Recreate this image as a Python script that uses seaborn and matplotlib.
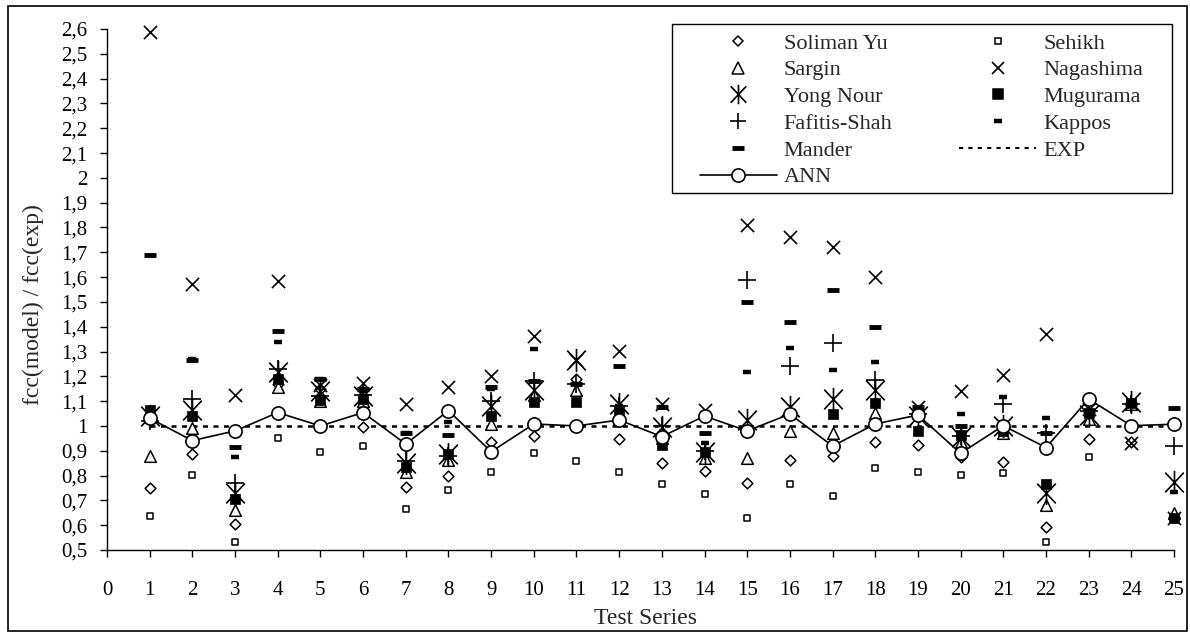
import matplotlib
matplotlib.use("Agg")
import matplotlib.pyplot as plt
import seaborn as sns
from matplotlib.path import Path
from matplotlib.patches import Rectangle
from matplotlib.lines import Line2D
from matplotlib.ticker import FuncFormatter, MultipleLocator

# test series 1..25
series = list(range(1, 26))

soliman_yu = [0.75, 0.886, 0.603, 1.17, 1.15, 0.997, 0.753, 0.798, 0.937, 0.96,
              1.188, 0.946, 0.849, 0.82, 0.769, 0.863, 0.879, 0.937, 0.923, 0.876,
              0.856, 0.594, 0.946, 0.935, 0.635]
sehikh = [0.637, 0.802, 0.534, 0.95, 0.897, 0.919, 0.665, 0.742, 0.816, 0.89,
          0.86, 0.816, 0.765, 0.726, 0.628, 0.765, 0.718, 0.829, 0.816, 0.802,
          0.809, 0.534, 0.876, 1.09, 0.63]
sargin = [0.879, 0.99, 0.661, 1.156, 1.10, 1.10, 0.816, 0.863, 1.008, 1.125,
          1.145, 1.03, 0.95, 0.87, 0.87, 0.98, 0.973, 1.051, 1.06, 0.937,
          0.973, 0.681, 1.03, 1.09, 0.648]
nagashima = [2.588, 1.573, 1.125, 1.585, 1.165, 1.172, 1.089, 1.155, 1.2, 1.363,
             1.266, 1.304, 1.089, 1.065, 1.81, 1.763, 1.72, 1.602, 1.075, 1.142,
             1.206, 1.371, 1.07, 0.933, 0.63]
yong_nour = [1.04, 1.065, 0.73, 1.219, 1.14, 1.12, 0.85, 0.887, 1.08, 1.145,
             1.266, 1.089, 0.997, 0.896, 1.024, 1.078, 1.108, 1.145, 1.04, 0.957,
             1.0, 0.731, 1.044, 1.098, 0.776]
mugurama = [1.065, 1.042, 0.706, 1.19, 1.105, 1.107, 0.836, 0.887, 1.04, 1.098,
            1.098, 1.065, 0.923, 0.893, 0.98, 1.05, 1.047, 1.091, 0.981, 0.964,
            0.98, 0.766, 1.051, 1.094, 0.628]
fafitis_shah = [1.02, 1.107, 0.769, 1.23, 1.12, 1.125, 0.86, 0.88, 1.1, 1.18,
                1.17, 1.08, 1.0, 0.9, 1.589, 1.243, 1.333, 1.185, 1.05, 0.96,
                1.089, 0.973, 1.06, 1.09, 0.921]
kappos = [1.05, 1.27, 0.876, 1.337, 1.19, 1.14, 0.97, 1.015, 1.15, 1.309,
          1.17, 1.08, 1.075, 0.93, 1.219, 1.313, 1.226, 1.257, 1.07, 1.047,
          1.118, 1.031, 1.06, 1.09, 0.735]
mander = [1.69, 1.266, 0.915, 1.383, 1.19, 1.15, 0.973, 0.964, 1.159, 1.18,
          1.17, 1.242, 1.078, 0.973, 1.501, 1.419, 1.548, 1.398, 1.075, 1.0,
          1.0, 0.97, 1.06, 1.09, 1.071]
exp_ratio = [1.0] * 25
ann = [1.031, 0.941, 0.98, 1.054, 1.0, 1.054, 0.927, 1.062, 0.896, 1.008,
       1.0, 1.024, 0.957, 1.04, 0.98, 1.048, 0.919, 1.008, 1.044, 0.89,
       1.001, 0.913, 1.108, 1.001, 1.007]

# asterisk: vertical bar plus an X
asterisk = Path([(0, -1), (0, 1), (-0.8, -0.85), (0.8, 0.85), (-0.8, 0.85), (0.8, -0.85)],
                [Path.MOVETO, Path.LINETO, Path.MOVETO, Path.LINETO, Path.MOVETO, Path.LINETO])

sns.set_style("white")
plt.rcParams["font.family"] = ["Liberation Serif", "DejaVu Serif"]
plt.rcParams["font.size"] = 15

W, H = 1190, 637
fig = plt.figure(figsize=(W / 100, H / 100), dpi=100)
ax = fig.add_axes([107 / W, 1 - 550 / H, (1174 - 107) / W, (550 - 29) / H])

sns.lineplot(x=series, y=exp_ratio, ax=ax, color="black", linewidth=1.8,
             linestyle=(0, (2, 2.2)), zorder=2)

scatter_specs = [
    (sehikh, dict(marker="s", s=18, color="white", edgecolor="black", linewidth=1.1)),
    (soliman_yu, dict(marker="D", s=30, color="white", edgecolor="black", linewidth=1.1)),
    (sargin, dict(marker="^", s=70, color="white", edgecolor="black", linewidth=1.1)),
    (nagashima, dict(marker="x", s=90, color="black", linewidth=1.2)),
    (mugurama, dict(marker="s", s=42, color="black", edgecolor="black", linewidth=0.5)),
    (yong_nour, dict(marker=asterisk, s=280, color="black", edgecolor="black", linewidth=1.2)),
    (fafitis_shah, dict(marker="+", s=150, color="black", linewidth=1.2)),
    (mander, dict(marker="_", s=80, color="black", linewidth=3.5)),
    (kappos, dict(marker="_", s=30, color="black", linewidth=3.2)),
]
for values, kws in scatter_specs:
    sns.scatterplot(x=series, y=values, ax=ax, zorder=3, clip_on=False, legend=False, **kws)

sns.lineplot(x=series, y=ann, ax=ax, color="black", linewidth=1.2, marker="o",
             markersize=9.5, markerfacecolor="white", markeredgecolor="black",
             markeredgewidth=1.2, zorder=4, clip_on=False)

ax.set_xlim(0, 25)
ax.set_ylim(0.5, 2.6)
ax.xaxis.set_major_locator(MultipleLocator(1))
ax.yaxis.set_major_locator(MultipleLocator(0.1))
ax.yaxis.set_major_formatter(FuncFormatter(lambda v, p: f"{round(v, 1):g}".replace(".", ",")))
for side in ["top", "right"]:
    ax.spines[side].set_visible(False)
for side in ["left", "bottom"]:
    ax.spines[side].set_color("black")
    ax.spines[side].set_linewidth(1.0)
ax.tick_params(axis="both", direction="out", length=5, width=1, color="black",
               labelsize=15, labelcolor="black", bottom=True, left=True)
ax.tick_params(axis="x", pad=17)
ax.tick_params(axis="y", pad=9)
ax.set_xlabel("Test Series", fontsize=17)
ax.set_ylabel("fcc(model) / fcc(exp)", fontsize=17)
ax.xaxis.set_label_coords((646 - 107) / 1067, (550 - 608) / 521)
ax.yaxis.set_label_coords((44 - 107) / 1067, (550 - 305) / 521)


def mk(marker, ms, mfc="white", mew=1.1):
    return Line2D([], [], marker=marker, markersize=ms, markerfacecolor=mfc,
                  markeredgecolor="black", markeredgewidth=mew, color="black", linestyle="none")


handles = [
    mk("D", 5.5), mk("^", 8.5), mk(asterisk, 14, mfc="black", mew=1.2), mk("+", 12, mew=1.2),
    mk("_", 9, mew=3.5),
    Line2D([], [], marker="o", markersize=9.5, markerfacecolor="white", markeredgecolor="black",
           markeredgewidth=1.2, color="black", linewidth=1.2),
    mk("s", 4.5), mk("x", 9, mew=1.2), mk("s", 6.5, mfc="black"), mk("_", 5.5, mew=3.2),
    Line2D([], [], color="black", linewidth=1.5, linestyle=(0, (2, 2.5))),
]
labels = ["Soliman Yu", "Sargin", "Yong Nour", "Fafitis-Shah", "Mander", "ANN",
          "Sehikh", "Nagashima", "Mugurama", "Kappos", "EXP"]
leg = ax.legend(handles, labels, ncol=2, loc="upper left",
                bbox_to_anchor=(700 / W, 1 - 33 / H, (1143 - 700) / W, 0),
                bbox_transform=fig.transFigure, mode="expand", frameon=False,
                fontsize=16, handlelength=3.46, handletextpad=0.31,
                labelspacing=0.28, borderpad=0, borderaxespad=0)
leg.set_zorder(5)

# legend box and outer border of the chart
fig.patches.append(Rectangle((672 / W, 1 - 193 / H), (1172 - 672) / W, (193 - 24) / H,
                             transform=fig.transFigure, fill=False, edgecolor="black",
                             linewidth=1.0))
fig.patches.append(Rectangle((8 / W, 1 - 631 / H), (1187 - 8) / W, (631 - 6) / H,
                             transform=fig.transFigure, fill=False, edgecolor="black",
                             linewidth=1.2))

fig.savefig("out.png", dpi=100)
